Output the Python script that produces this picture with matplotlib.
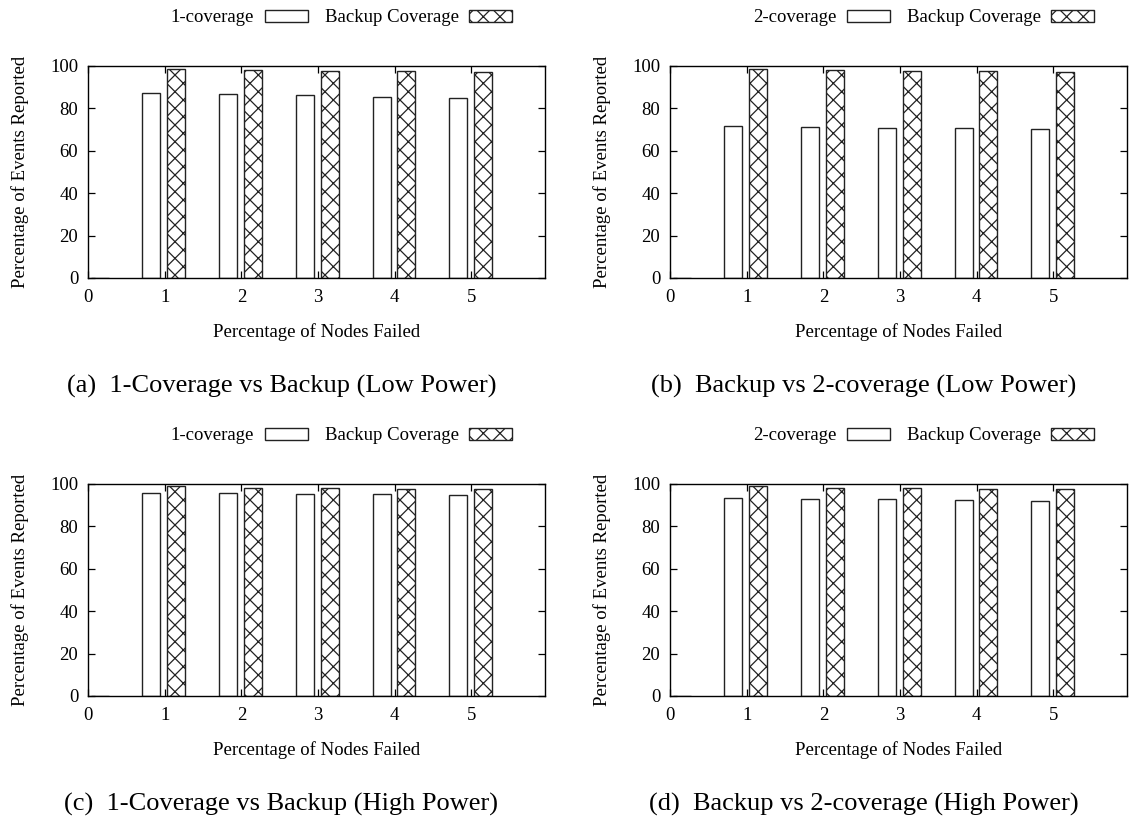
import numpy as np
import matplotlib
matplotlib.use('Agg')
import matplotlib.pyplot as plt

plt.rcParams['font.family'] = ['Liberation Serif', 'DejaVu Serif']
plt.rcParams['hatch.linewidth'] = 0.9

# 数据
failed = [0, 1, 2, 3, 4, 5]

cov1_low = [0, 87.3, 86.6, 86.5, 85.4, 84.7]
backup_low = [0, 98.4, 98.3, 97.8, 97.6, 97.2]
cov2_low = [0, 71.7, 71.2, 70.9, 70.6, 70.1]
backup_low_b = [0, 98.4, 98.3, 97.8, 97.6, 97.3]

cov1_high = [0, 95.9, 95.8, 95.4, 95.1, 94.7]
backup_high = [0, 99.1, 98.3, 98.0, 97.8, 97.8]
cov2_high = [0, 93.2, 93.1, 92.8, 92.5, 92.0]
backup_high_d = [0, 99.1, 98.3, 98.0, 97.8, 97.8]

panels = [
    ('1-coverage', cov1_low, backup_low, '(a)  1-Coverage vs Backup (Low Power)'),
    ('2-coverage', cov2_low, backup_low_b, '(b)  Backup vs 2-coverage (Low Power)'),
    ('1-coverage', cov1_high, backup_high, '(c)  1-Coverage vs Backup (High Power)'),
    ('2-coverage', cov2_high, backup_high_d, '(d)  Backup vs 2-coverage (High Power)'),
]

W, H = 1135, 819
fig = plt.figure(figsize=(W / 100, H / 100), dpi=100)

# 像素布局 (left, top) of each axes
ax_left = [88, 670, 88, 670]
ax_top = [66, 66, 484, 484]
ax_w, ax_h = 457, 212

fs = 13.5
x = np.array(failed)
bw = 0.235

for k, (lab1, v1, v2, cap) in enumerate(panels):
    l, t = ax_left[k], ax_top[k]
    ax = fig.add_axes([l / W, 1 - (t + ax_h) / H, ax_w / W, ax_h / H])
    b1 = ax.bar(x - 0.172, v1, bw, color='white', edgecolor='#222222',
                linewidth=1.0, label=lab1)
    b2 = ax.bar(x + 0.152, v2, bw, color='white', edgecolor='#222222',
                hatch='xx', linewidth=1.0, label='Backup Coverage')

    ax.set_xlim(0, 5.96)
    ax.set_ylim(0, 100)
    ax.set_xticks(failed)
    ax.set_yticks(range(0, 101, 20))
    ax.tick_params(direction='in', length=5, width=0.9, top=True, right=True,
                   labelsize=fs)
    ax.tick_params(axis='y', pad=7)
    ax.tick_params(axis='x', pad=8)
    for sp in ax.spines.values():
        sp.set_linewidth(1.0)

    ax.set_xlabel('Percentage of Nodes Failed', fontsize=fs)
    ax.set_ylabel('Percentage of Events Reported', fontsize=fs)
    ax.xaxis.set_label_coords(0.5, -0.215)
    ax.yaxis.set_label_coords(-0.13, 0.5)

    ax.legend(handles=[b1, b2], ncol=2, markerfirst=False, frameon=False,
              loc='center right', fontsize=fs,
              bbox_to_anchor=((l + ax_w - 33) / W, 1 - (t - 48) / H),
              bbox_transform=fig.transFigure, borderpad=0, borderaxespad=0,
              handlelength=2.3, handleheight=0.55, handletextpad=0.55,
              columnspacing=0.9)

    fig.text((l + ax_w / 2 - 35) / W, 1 - (t + 320) / H, cap, fontsize=19,
             ha='center', va='center')

plt.savefig('out.png', dpi=100)
